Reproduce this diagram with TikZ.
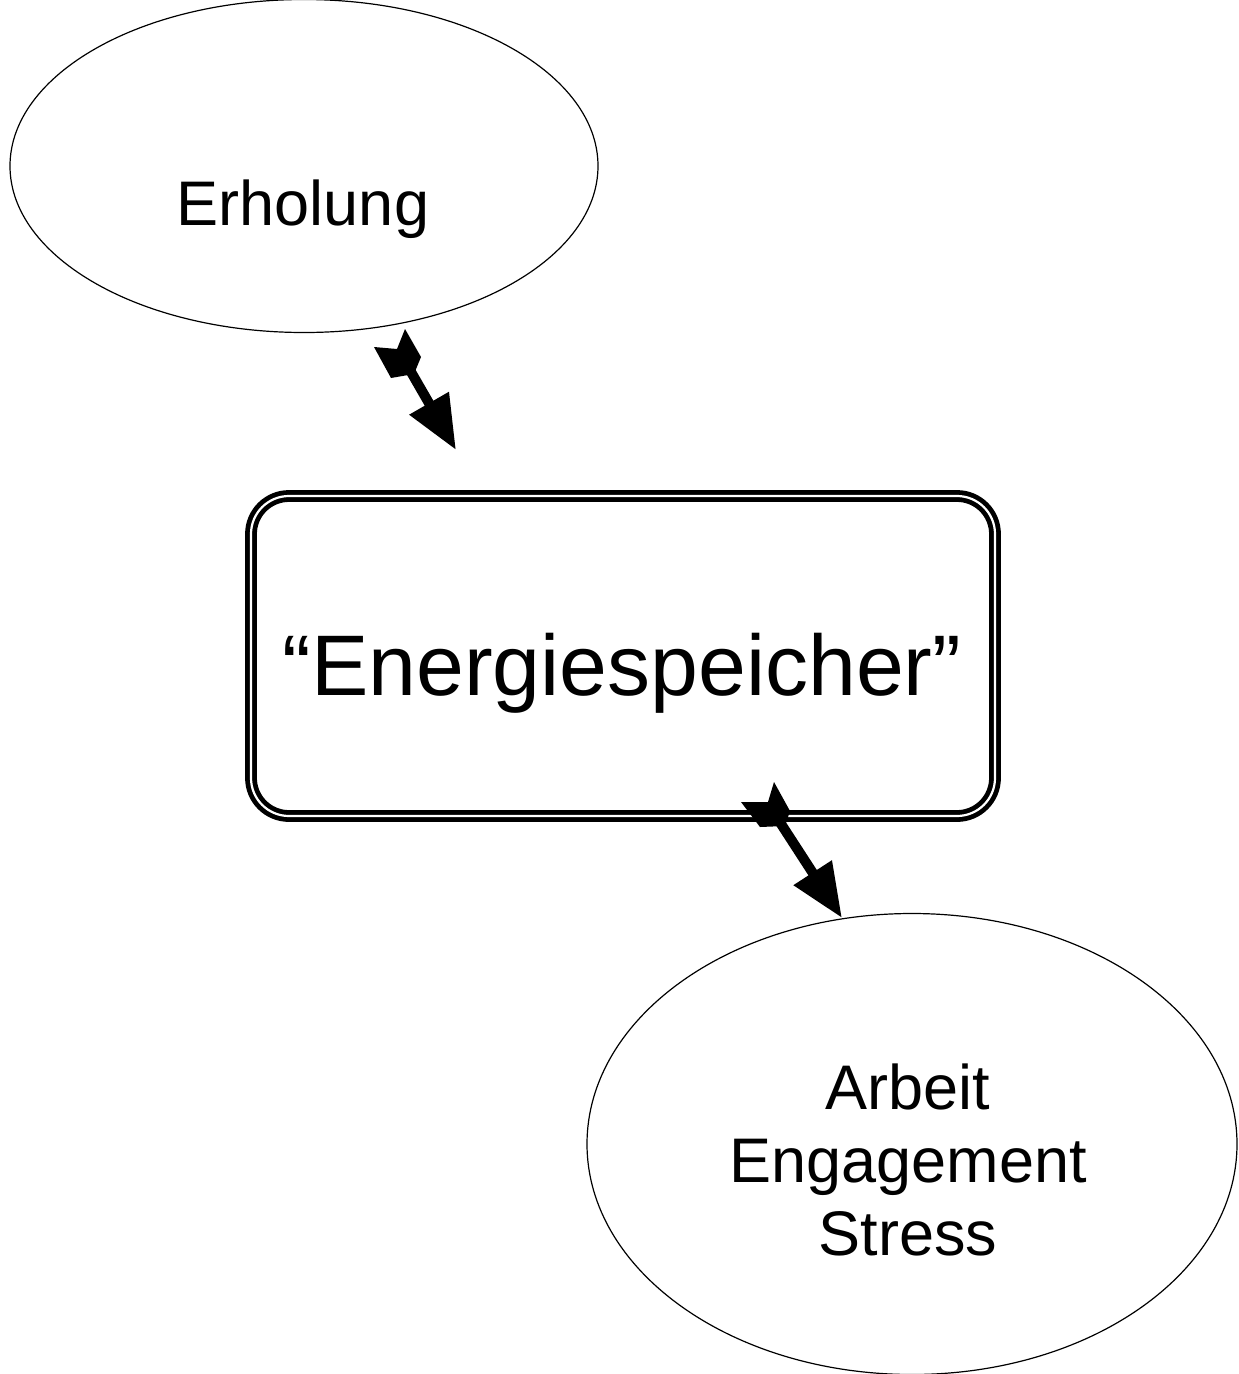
\documentclass[tikz,border=0pt]{standalone}
\usepackage{fontspec}
\setmainfont{Liberation Sans}
\usetikzlibrary{arrows.meta,shapes.geometric}

\begin{document}
\begin{tikzpicture}[x=1pt,y=-1pt,
  oval/.style={draw, ellipse, line width=1.2pt, inner sep=0pt},
  store/.style={draw, rectangle, rounded corners=38pt, double, line width=4.8pt,
    double distance=2.2pt, inner sep=0pt, minimum width=744pt, minimum height=320pt},
  label/.style={inner sep=0pt, anchor=base, font=\fontsize{63}{73}\selectfont},
  shaft/.style={line width=10pt, -{Triangle[length=54pt,width=43pt]}},
  feather/.style={fill=black}
]
\useasboundingbox (0,0) rectangle (1239,1374);

% ovals and the storage box
\node[oval, minimum width=588pt, minimum height=333pt] (erh) at (304,166) {};
\node[label] (erhtext) at (303,225) {Erholung};

\node[store] (box) at (623,656) {};
\node[label, font=\fontsize{86}{100}\selectfont] (boxtext) at (622,695) {“Energiespeicher”};

\node[oval, minimum width=650pt, minimum height=461pt] (arb) at (912,1144) {};
\node[label, align=center, anchor=north] (arbtext) at (908,1064)
  {Arbeit\\Engagement\\Stress};

% connector from recovery to storage
\coordinate (t1) at (403,358);
\coordinate (h1) at (456,450);
\draw[shaft] (t1) -- (h1);
\fill[feather] (405,329) -- (421,357) -- (414,374) -- (391,378) -- (374,347) -- (397,349) -- cycle;

% connector from storage to work
\coordinate (t2) at (772,810);
\coordinate (h2) at (842,918);
\draw[shaft] (t2) -- (h2);
\fill[feather] (774,782) -- (790,811) -- (785,826) -- (760,827) -- (741,802) -- (768,802) -- cycle;
\end{tikzpicture}
\end{document}
